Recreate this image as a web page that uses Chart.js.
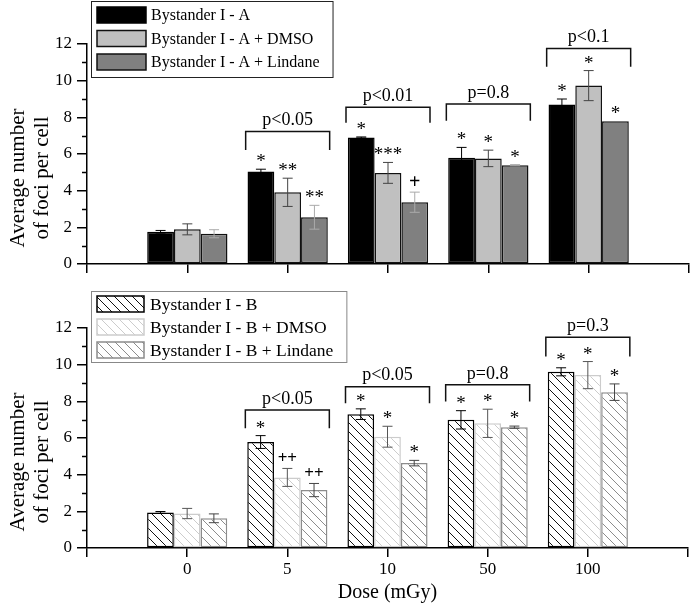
<!DOCTYPE html>
<html>
<head>
<meta charset="utf-8">
<script src="https://cdn.jsdelivr.net/npm/chart.js@4.4.1/dist/chart.umd.min.js"></script>
<style>
  html, body { margin: 0; padding: 0; background: #fff; }
  #wrap { position: relative; width: 690px; height: 603px; }
  canvas { position: absolute; left: 0; }
  #topChart { top: 0; }
  #botChart { top: 290px; }
</style>
</head>
<body>
<div id="wrap">
  <canvas id="topChart" width="690" height="290"></canvas>
  <canvas id="botChart" width="690" height="313"></canvas>
</div>
<script>
// x categories (padded with an empty slot at each end so the axis runs past the groups)
const doses = ['0', '5', '10', '50', '100'];
const yTicks = [0, 2, 4, 6, 8, 10, 12];

// top panel: Bystander I - A
const labelsA = ['Bystander I - A', 'Bystander I - A + DMSO', 'Bystander I - A + Lindane'];
const meanA = [1.76, 5.04, 6.90, 5.79, 8.70];
const errA = [0.07, 0.13, 0.03, 0.57, 0.30];
const meanDmsoA = [1.89, 3.91, 4.97, 5.76, 9.73];
const errDmsoA = [0.30, 0.77, 0.57, 0.45, 0.82];
const meanLindA = [1.65, 2.55, 3.37, 5.39, 7.78];
const errLindA = [0.22, 0.65, 0.55, 0.03, 0.00];
const marksA = ['', '*', '*', '*', '*'];
const marksDmsoA = ['', '**', '***', '*', '*'];
const marksLindA = ['', '**', '+', '*', '*'];
const pTextA = ['', 'p<0.05', 'p<0.01', 'p=0.8', 'p<0.1'];
const bracketTopA = [null, 7.23, 8.55, 8.73, 11.76];
const bracketLegA = [null, 6.22, 7.70, 7.82, 10.76];

// bottom panel: Bystander I - B
const labelsB = ['Bystander I - B', 'Bystander I - B + DMSO', 'Bystander I - B + Lindane'];
const meanB = [1.94, 5.78, 7.30, 6.99, 9.61];
const errB = [0.05, 0.35, 0.29, 0.50, 0.22];
const meanDmsoB = [1.88, 3.85, 6.07, 6.80, 9.43];
const errDmsoB = [0.28, 0.49, 0.57, 0.77, 0.74];
const meanLindB = [1.62, 3.16, 4.63, 6.59, 8.50];
const errLindB = [0.24, 0.36, 0.15, 0.06, 0.45];
const marksB = ['', '*', '*', '*', '*'];
const marksDmsoB = ['', '++', '*', '*', '*'];
const marksLindB = ['', '++', '*', '*', '*'];
const pTextB = ['', 'p<0.05', 'p<0.05', 'p=0.8', 'p=0.3'];
const bracketTopB = [null, 7.53, 8.80, 8.90, 11.50];
const bracketLegB = [null, 6.53, 7.90, 7.99, 10.45];

const SERIF = '"Liberation Serif", "Times New Roman", serif';
const xLabels = [''].concat(doses, ['']);
const pad = arr => [null].concat(arr, [null]);

function hatch(color) {
  const s = 9;
  const c = document.createElement('canvas');
  c.width = s; c.height = s;
  const g = c.getContext('2d');
  g.fillStyle = '#fff';
  g.fillRect(0, 0, s, s);
  g.strokeStyle = color;
  g.lineWidth = 1;
  g.beginPath();
  g.moveTo(-1, -1); g.lineTo(s + 1, s + 1);
  g.moveTo(-1, s - 1); g.lineTo(1, s + 1);
  g.moveTo(s - 1, -1); g.lineTo(s + 1, 1);
  g.stroke();
  return g.createPattern(c, 'repeat');
}

const extras = {
  id: 'extras',
  afterDatasetsDraw(chart, args, o) {
    const ctx = chart.ctx;
    const y = chart.scales.y;
    const area = chart.chartArea;
    ctx.save();

    // error bars and significance marks
    chart.data.datasets.forEach((ds, di) => {
      const meta = chart.getDatasetMeta(di);
      o.errs[di].forEach((e, i) => {
        const bar = meta.data[i + 1];
        const v = ds.data[i + 1];
        const x = bar.x;
        const yt = y.getPixelForValue(v + e);
        const yb = y.getPixelForValue(v - e);
        if (e > 0) {
          ctx.strokeStyle = o.errColors[di];
          ctx.lineWidth = 1;
          ctx.beginPath();
          ctx.moveTo(x, yt); ctx.lineTo(x, yb);
          ctx.moveTo(x - 5, yt); ctx.lineTo(x + 5, yt);
          ctx.moveTo(x - 5, yb); ctx.lineTo(x + 5, yb);
          ctx.stroke();
        }
        const m = o.marks[di][i];
        if (m) {
          ctx.font = (m === '+' ? 'bold 20px ' : m === '++' ? 'bold 17px ' : '19px ') + SERIF;
          ctx.fillStyle = '#000';
          ctx.textAlign = 'center';
          ctx.textBaseline = 'alphabetic';
          const tm = ctx.measureText(m);
          const cy = yt - 11.5;
          ctx.fillText(m, x, cy + (tm.actualBoundingBoxAscent - tm.actualBoundingBoxDescent) / 2);
        }
      });
    });

    // brackets and p values
    const xs = chart.scales.x;
    o.bracketTop.forEach((bt, i) => {
      if (bt == null) return;
      const cx = xs.getPixelForValue(i + 1);
      const x0 = cx - 42, x1 = cx + 42;
      const yT = y.getPixelForValue(bt);
      const yL = y.getPixelForValue(o.bracketLeg[i]);
      ctx.strokeStyle = '#111';
      ctx.lineWidth = 1.5;
      ctx.beginPath();
      ctx.moveTo(x0, yL); ctx.lineTo(x0, yT); ctx.lineTo(x1, yT); ctx.lineTo(x1, yL);
      ctx.stroke();
      ctx.font = '18px ' + SERIF;
      ctx.fillStyle = '#000';
      ctx.textAlign = 'center';
      ctx.textBaseline = 'middle';
      ctx.fillText(o.pText[i], cx, yT - 11);
    });

    // minor y ticks
    ctx.strokeStyle = '#000';
    ctx.lineWidth = 1.5;
    ctx.beginPath();
    for (let v = 1; v < 12; v += 2) {
      const py = Math.round(y.getPixelForValue(v)) + 0.5;
      ctx.moveTo(area.left - 5, py); ctx.lineTo(area.left, py);
    }
    ctx.stroke();

    // y axis title
    ctx.font = '21px ' + SERIF;
    ctx.fillStyle = '#000';
    ctx.textAlign = 'center';
    ctx.textBaseline = 'middle';
    const yc = area.bottom - 86;
    [['Average number', 18], ['of foci per cell', 42]].forEach(([t, lx]) => {
      ctx.save();
      ctx.translate(lx, yc);
      ctx.rotate(-Math.PI / 2);
      ctx.fillText(t, 0, 0);
      ctx.restore();
    });

    // legend box
    const L = o.legend;
    ctx.font = L.font + 'px ' + SERIF;
    let maxW = 0;
    chart.data.datasets.forEach(ds => { maxW = Math.max(maxW, ctx.measureText(ds.label).width); });
    ctx.fillStyle = '#fff';
    ctx.fillRect(L.x, L.y, L.textX - L.x + maxW + 13, L.h);
    ctx.strokeStyle = L.border;
    ctx.lineWidth = 1;
    ctx.strokeRect(L.x + 0.5, L.y + 0.5, L.textX - L.x + maxW + 13, L.h);
    chart.data.datasets.forEach((ds, di) => {
      const sy = L.y + L.first + di * L.step;
      ctx.fillStyle = ds.backgroundColor;
      ctx.fillRect(L.sx, sy, L.sw, L.sh);
      ctx.strokeStyle = ds.borderColor;
      ctx.lineWidth = 1.5;
      ctx.strokeRect(L.sx, sy, L.sw, L.sh);
      ctx.fillStyle = '#000';
      ctx.textAlign = 'left';
      ctx.textBaseline = 'middle';
      ctx.fillText(ds.label, L.textX, sy + L.sh / 2 + 1);
    });
    ctx.restore();
  }
};

function makeChart(id, opts) {
  return new Chart(document.getElementById(id), {
    type: 'bar',
    data: {
      labels: xLabels,
      datasets: opts.datasets
    },
    options: {
      responsive: false,
      animation: false,
      layout: { padding: { top: opts.padTop, right: 1, left: 0, bottom: 0 } },
      datasets: { bar: { categoryPercentage: 0.8, barPercentage: 1.0, borderSkipped: false } },
      plugins: {
        legend: { display: false },
        tooltip: { enabled: false },
        extras: opts.extras
      },
      scales: {
        x: {
          type: 'category',
          offset: false,
          grid: { offset: false, drawOnChartArea: false, drawTicks: true, tickLength: 9, color: '#000', lineWidth: 1.5 },
          border: { display: true, color: '#000', width: 1.5 },
          ticks: {
            display: opts.showX,
            color: '#000',
            font: { family: SERIF, size: 17 },
            padding: 2,
            maxRotation: 0,
            autoSkip: false
          },
          title: {
            display: opts.showX,
            text: 'Dose (mGy)',
            color: '#000',
            font: { family: SERIF, size: 20, lineHeight: 1 },
            padding: 0
          },
          afterFit(scale) { scale.height = opts.xHeight; }
        },
        y: {
          min: 0,
          max: 12,
          afterBuildTicks(scale) { scale.ticks = yTicks.map(v => ({ value: v })); },
          grid: { drawOnChartArea: false, drawTicks: true, tickLength: 10, color: '#000', lineWidth: 1.5 },
          border: { display: true, color: '#000', width: 1.5 },
          ticks: { color: '#000', font: { family: SERIF, size: 17 }, padding: 5 },
          afterFit(scale) { scale.width = 87; }
        }
      }
    },
    plugins: [extras]
  });
}

makeChart('topChart', {
  padTop: 44,
  xHeight: 26,
  showX: false,
  datasets: [
    { label: labelsA[0], data: pad(meanA), backgroundColor: '#000000', borderColor: '#000000', borderWidth: 1.5 },
    { label: labelsA[1], data: pad(meanDmsoA), backgroundColor: '#c0c0c0', borderColor: '#111111', borderWidth: 1.5 },
    { label: labelsA[2], data: pad(meanLindA), backgroundColor: '#808080', borderColor: '#111111', borderWidth: 1.5 }
  ],
  extras: {
    errs: [errA, errDmsoA, errLindA],
    errColors: ['#000', '#444', '#aaa'],
    marks: [marksA, marksDmsoA, marksLindA],
    pText: pTextA,
    bracketTop: bracketTopA,
    bracketLeg: bracketLegA,
    legend: { x: 91, y: 1, h: 76, first: 6, step: 23.5, sx: 97, sw: 49, sh: 16, textX: 151, font: 16, border: '#222' }
  }
});

makeChart('botChart', {
  padTop: 38,
  xHeight: 55,
  showX: true,
  datasets: [
    { label: labelsB[0], data: pad(meanB), backgroundColor: hatch('#111'), borderColor: '#000000', borderWidth: 1.5 },
    { label: labelsB[1], data: pad(meanDmsoB), backgroundColor: hatch('#cccccc'), borderColor: '#cccccc', borderWidth: 1.5 },
    { label: labelsB[2], data: pad(meanLindB), backgroundColor: hatch('#8c8c8c'), borderColor: '#8c8c8c', borderWidth: 1.5 }
  ],
  extras: {
    errs: [errB, errDmsoB, errLindB],
    errColors: ['#000', '#555', '#444'],
    marks: [marksB, marksDmsoB, marksLindB],
    pText: pTextB,
    bracketTop: bracketTopB,
    bracketLeg: bracketLegB,
    legend: { x: 91, y: 1, h: 71, first: 5, step: 23, sx: 97, sw: 47, sh: 16, textX: 150, font: 17.5, border: '#888' }
  }
});
</script>
</body>
</html>
